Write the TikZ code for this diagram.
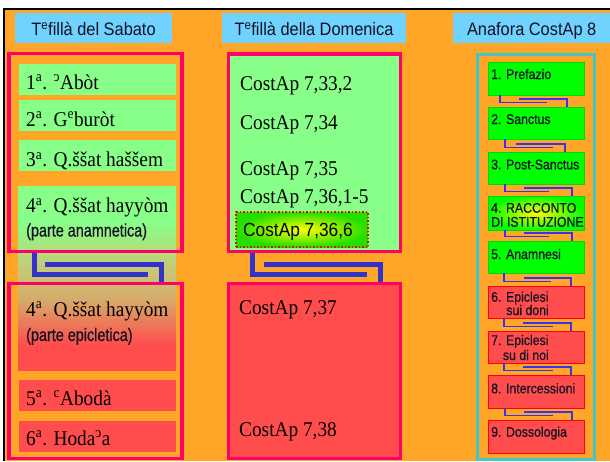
\documentclass[tikz,border=0pt]{standalone}
\usepackage{fontspec}
\usepackage{graphicx}
\usetikzlibrary{calc}
\setmainfont[FakeStretch=0.92]{Liberation Serif}
\newfontfamily\hdrfont[FakeStretch=0.91]{Liberation Sans}
\newfontfamily\narrowfont[FakeStretch=0.88,FakeBold=0.5]{Liberation Sans}
\newfontfamily\parfont[FakeStretch=0.8,FakeBold=0.5]{Liberation Sans}
\definecolor{orangebg}{HTML}{FFA628}
\definecolor{hdrblue}{HTML}{70D2FF}
\definecolor{pinkframe}{HTML}{FF0066}
\definecolor{lgreen}{HTML}{88FF88}
\definecolor{lred}{HTML}{FF4D4D}
\definecolor{tanc}{HTML}{D7AA69}
\definecolor{olivec}{HTML}{C3CD78}
\definecolor{bigblue}{HTML}{3333CC}
\definecolor{thinblue}{HTML}{3535EE}
\definecolor{tealc}{HTML}{40C8C8}
\definecolor{bgreen}{HTML}{00FF00}
\definecolor{hlgreen}{HTML}{22E000}
\definecolor{txtc}{HTML}{111122}
\pgfdeclareverticalshading{ggrad}{100bp}{color(0bp)=(lred); color(32bp)=(lred); color(44bp)=(tanc); color(53.5bp)=(olivec); color(65bp)=(lgreen); color(100bp)=(lgreen)}
\newcommand\revc{\textsuperscript{\reflectbox{c}}}
\newcommand\rconn[6]{%
  \draw[thinconn] ($(#1.south west)+(#3,0)$) |- ($(#2.north west)+(#4,-4.5)$);
  \draw[thinconn] ($(#2.north west)+(#5,-8)$) -| ($(#2.north west)+(#6,0)$);}
\begin{document}
\begin{tikzpicture}[x=1pt,y=-1pt,
  hdrbox/.style={fill=hdrblue, draw=none, inner sep=0, outer sep=0},
  frame/.style={draw=pinkframe, line width=3.5pt, inner sep=0, outer sep=0},
  lbox/.style={anchor=north west, inner sep=0, outer sep=0, minimum width=157pt, minimum height=31pt},
  rbox/.style={anchor=north west, inner sep=0, outer sep=0, minimum width=96pt},
  rgreen/.style={rbox, fill=bgreen, draw=green!85!black, line width=0.4pt},
  rred/.style={rbox, fill=lred, draw=red, line width=0.8pt},
  htxt/.style={anchor=base, inner sep=0, text=txtc, font=\hdrfont\fontsize{18}{22}\selectfont},
  stxt/.style={anchor=base west, inner sep=0, text=black, font=\fontsize{21}{24}\selectfont},
  ptxt/.style={anchor=base west, inner sep=0, text=txtc, font=\parfont\fontsize{18}{20}\selectfont},
  rtxt/.style={anchor=base west, inner sep=0, text=txtc, font=\narrowfont\fontsize{14}{16}\selectfont},
  bigconn/.style={draw=bigblue, line width=5pt},
  thinconn/.style={draw=thinblue, line width=1.3pt}]
\useasboundingbox (0,0) rectangle (610,461);
\fill[white] (0,0) rectangle (610,461);
\fill[orangebg] (5,10) rectangle (610,461);
\fill[black] (3,8) rectangle (610,10);
\fill[black] (3,8) rectangle (5,461);

% headers
\node[hdrbox, minimum width=157pt, minimum height=30pt] (h1) at (93.5,28) {};
\node[hdrbox, minimum width=184pt, minimum height=30pt] (h2) at (314,28) {};
\node[hdrbox, minimum width=156.7pt, minimum height=30pt] (h3) at (531.65,28) {};
\node[htxt] (h1t) at (93.5,35.3) {T\textsuperscript{e}fillà del Sabato};
\node[htxt] (h2t) at (314,35.3) {T\textsuperscript{e}fillà della Domenica};
\node[htxt] (h3t) at (531.65,35.5) {Anafora CostAp 8};

% left column boxes
\node[lbox, fill=lgreen] (b1) at (19,64) {};
\node[lbox, fill=lgreen] (b2) at (19,100) {};
\node[lbox, fill=lgreen] (b3) at (19,140) {};
\node[lbox, shading=ggrad, minimum width=158pt, minimum height=184pt] (b4) at (18,186) {};
\node[lbox, fill=lred] (b5) at (19,380) {};
\node[lbox, fill=lred] (b6) at (19,421) {};

% middle frames (filled)
\node[frame, fill=lgreen, minimum width=172.2pt, minimum height=197.7pt] (fUM) at (314.4,152.65) {};
\node[frame, fill=lred, minimum width=172.2pt, minimum height=175.2pt] (fLM) at (314.4,370.9) {};
% left frames
\node[frame, minimum width=173.2pt, minimum height=197.8pt] (fUL) at (95.4,152.6) {};
\node[frame, minimum width=173.2pt, minimum height=175.2pt] (fLL) at (95.4,370.9) {};

% highlighted box
\node[anchor=north west, inner sep=0, outer sep=0, minimum width=132pt, minimum height=35pt,
      inner color=yellow, outer color=hlgreen, draw=red, line width=1.5pt, dotted] (hl) at (236,212) {};

% big connectors
\draw[bigconn] ($(fUL.south west)+(25.5,0)$) |- ($(fLL.north west)+(139.2,-8.8)$);
\draw[bigconn] ($(fLL.north west)+(36.2,-18.8)$) -| ($(fLL.north west)+(152.2,0)$);
\draw[bigconn] ($(fUM.south west)+(24.2,0)$) |- ($(fLM.north west)+(138.7,-8.8)$);
\draw[bigconn] ($(fLM.north west)+(35.7,-18.8)$) -| ($(fLM.north west)+(152.2,0)$);
% redraw frame edges over connector starts
\draw[pinkframe, line width=3.5pt] (fUL.south west) -- (fUL.south east);
\draw[pinkframe, line width=3.5pt] (fLL.north west) -- (fLL.north east);
\draw[pinkframe, line width=3.5pt] (fUM.south west) -- (fUM.south east);
\draw[pinkframe, line width=3.5pt] (fLM.north west) -- (fLM.north east);

% left texts
\node[stxt] (t1) at (26,89.3) {1\textsuperscript{a}. \revc Abòt};
\node[stxt] (t2) at (26,126) {2\textsuperscript{a}. G\textsuperscript{e}buròt};
\node[stxt] (t3) at (26,166.7) {3\textsuperscript{a}. Q.ššat haššem};
\node[stxt] (t4) at (26,212.7) {4\textsuperscript{a}. Q.ššat hayyòm};
\node[ptxt] (t4p) at (26,236.5) {(parte anamnetica)};
\node[stxt] (t4b) at (26,316.5) {4\textsuperscript{a}. Q.ššat hayyòm};
\node[ptxt] (t4bp) at (26,341) {(parte epicletica)};
\node[stxt] (t5) at (26,405) {5\textsuperscript{a}. \textsuperscript{c}Abodà};
\node[stxt] (t6) at (26,445) {6\textsuperscript{a}. Hoda\revc a};

% middle texts
\node[stxt] (m1) at (240,90.5) {CostAp 7,33,2};
\node[stxt] (m2) at (240,129) {CostAp 7,34};
\node[stxt] (m3) at (240,175) {CostAp 7,35};
\node[stxt] (m4) at (240,203) {CostAp 7,36,1-5};
\node[anchor=base west, inner sep=0, text=black, font=\hdrfont\fontsize{19}{22}\selectfont] (m5) at (243,236) {CostAp 7,36,6};
\node[stxt] (m6) at (239,314.5) {CostAp 7,37};
\node[stxt] (m7) at (239,436.5) {CostAp 7,38};

% right column
\node[draw=tealc, line width=3pt, inner sep=0, outer sep=0, minimum width=117pt, minimum height=404.3pt] (fR) at (536,256.85) {};
\node[rgreen, minimum height=33pt] (r1) at (488,62) {};
\node[rgreen, minimum height=32pt] (r2) at (488,107) {};
\node[rgreen, minimum height=32pt] (r3) at (488,152) {};
\node[rbox, minimum height=34pt, inner color=yellow, outer color=bgreen, draw=green!85!black, line width=0.4pt] (r4) at (488,196) {};
\node[rgreen, minimum height=32pt] (r5) at (488,241) {};
\node[rred, minimum height=32pt] (r6) at (488,286) {};
\node[rred, minimum height=32pt] (r7) at (488,331) {};
\node[rred, minimum height=33pt] (r8) at (488,375) {};
\node[rred, minimum height=33pt] (r9) at (488,420) {};

\rconn{r1}{r2}{12}{59}{31}{79}
\rconn{r2}{r3}{17}{65}{28}{77}
\rconn{r3}{r4}{17}{61}{36}{84}
\rconn{r4}{r5}{17}{61}{36}{84}
\rconn{r5}{r6}{16}{63}{36}{83}
\rconn{r6}{r7}{16}{65}{35}{83}
\rconn{r7}{r8}{16}{65}{35}{83}
\rconn{r8}{r9}{17}{65}{36}{84}

\node[rtxt] (rt1) at (491,79) {1. Prefazio};
\node[rtxt] (rt2) at (491,124) {2. Sanctus};
\node[rtxt] (rt3) at (491,169.3) {3. Post-Sanctus};
\node[rtxt] (rt4a) at (491,212.7) {4. RACCONTO};
\node[rtxt] (rt4b) at (491,226.7) {DI ISTITUZIONE};
\node[rtxt] (rt5) at (491,259) {5. Anamnesi};
\node[rtxt] (rt6a) at (491,301.7) {6. Epiclesi};
\node[rtxt, anchor=base east] (rt6b) at (549,315) {sui doni};
\node[rtxt] (rt7a) at (491,345) {7. Epiclesi};
\node[rtxt, anchor=base east] (rt7b) at (549,360) {su di noi};
\node[rtxt] (rt8) at (491,393.3) {8. Intercessioni};
\node[rtxt] (rt9) at (491,436.7) {9. Dossologia};
\end{tikzpicture}
\end{document}
